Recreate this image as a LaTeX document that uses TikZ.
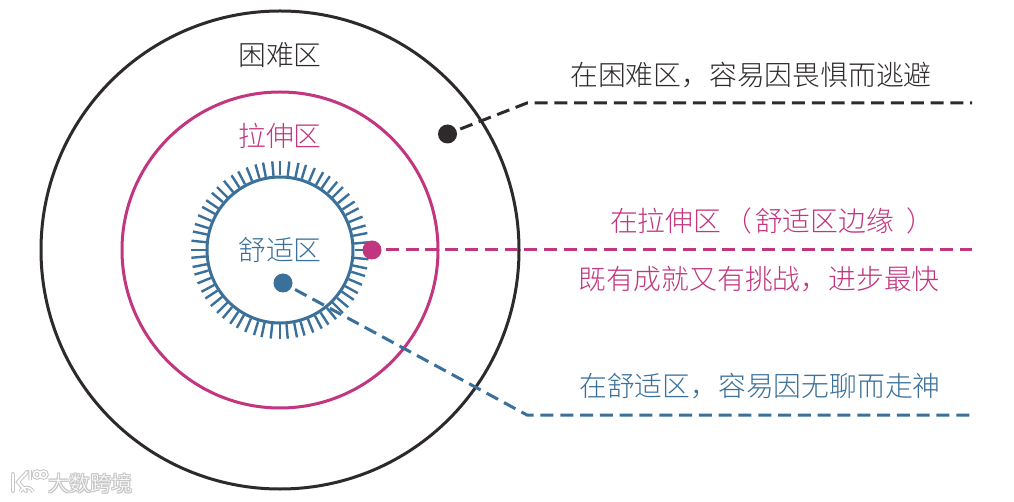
\documentclass[tikz,border=0pt]{standalone}
\usepackage{fontspec}
\usetikzlibrary{calc}
\setmainfont{Noto Sans CJK SC Light}
\definecolor{darkc}{HTML}{2E2A2B}
\definecolor{pinkc}{HTML}{C2357F}
\definecolor{bluec}{HTML}{3A7099}
\tikzset{
  zone/.style={draw,line width=3pt,circle,minimum size=#1,inner sep=0pt},
  dotn/.style={circle,fill=#1,minimum size=19pt,inner sep=0pt},
  lead/.style={line width=3pt,dash pattern=on 13pt off 6.8pt,shorten <=4pt,#1},
  lab/.style={font=\fontsize{27.8}{28}\selectfont,inner sep=0pt,anchor=center,text=#1},
  wmtext/.style={font=\fontsize{21}{21}\selectfont,inner sep=0pt,text=#1}
}
\begin{document}
\begin{tikzpicture}[x=1pt,y=-1pt]
\useasboundingbox (0,0) rectangle (1014,502);
\fill[white] (0,0) rectangle (1014,502);
\node[zone=478pt,darkc] (outer) at (280,250) {};
\node[zone=316pt,pinkc] (mid) at (280,250) {};
\node[zone=146pt,bluec] (inner) at (280,250) {};
\foreach \i in {0,...,63}
  \draw[bluec,line width=2.4pt] (inner.{\i*5.625}) -- ($(inner.center)!89pt!(inner.{\i*5.625})$);
\node[lab=darkc] (t1) at (280,55) {困难区};
\node[lab=pinkc] (t2) at (280,136) {拉伸区};
\node[lab=bluec] (t3) at (280,250) {舒适区};
\node[lab=darkc] (r1) at (751,75) {在困难区，容易因畏惧而逃避};
\node[lab=pinkc] (r2) at (772,221) {在拉伸区\hspace{3pt}（\hspace{3pt}舒适区边缘\hspace{12pt}）};
\node[lab=pinkc] (r3) at (759,279) {既有成就又有挑战，进步最快};
\node[lab=bluec] (r4) at (760,386) {在舒适区，容易因无聊而走神};
\node[dotn=darkc] (d1) at (447.5,134) {};
\node[dotn=pinkc] (d2) at (372,250) {};
\node[dotn=bluec] (d3) at (283,283) {};
\coordinate (e1) at (527,103);
\coordinate (f1) at (972,103);
\coordinate (f2) at (972,250);
\coordinate (e3) at (527,415);
\coordinate (f3) at (975,415);
\draw[lead=darkc] (d1) -- (e1) -- (f1);
\draw[lead=pinkc] (d2) -- (f2);
\draw[lead=bluec] (d3) -- (e3) -- (f3);
% watermark
\foreach \dx/\dy in {-1/0,1/0,0/-1,0/1,-1/-1,1/1,-1/1,1/-1}
  \node[wmtext=black!22] at (90+\dx,483.5+\dy) {大数跨境};
\node[wmtext=white] (wm) at (90,483.5) {大数跨境};
\draw[black!22,line width=4pt,line cap=round] (13,474) -- (13,491);
\draw[black!22,line width=4pt,line cap=round] (27,472) -- (18,482) -- (26,491);
\draw[black!22,line width=3.5pt] (20,492) arc[start angle=200,end angle=340,radius=7];
\draw[black!22,line width=3.5pt] (30,470) -- (30,480) (37,474.5) circle[radius=3.5] (43.5,474.5) circle[radius=3.5];
\draw[white,line width=2pt,line cap=round] (13,474) -- (13,491);
\draw[white,line width=2pt,line cap=round] (27,472) -- (18,482) -- (26,491);
\draw[white,line width=1.5pt] (20,492) arc[start angle=200,end angle=340,radius=7];
\draw[white,line width=1.5pt] (30,470) -- (30,480) (37,474.5) circle[radius=3.5] (43.5,474.5) circle[radius=3.5];
\end{tikzpicture}
\end{document}
